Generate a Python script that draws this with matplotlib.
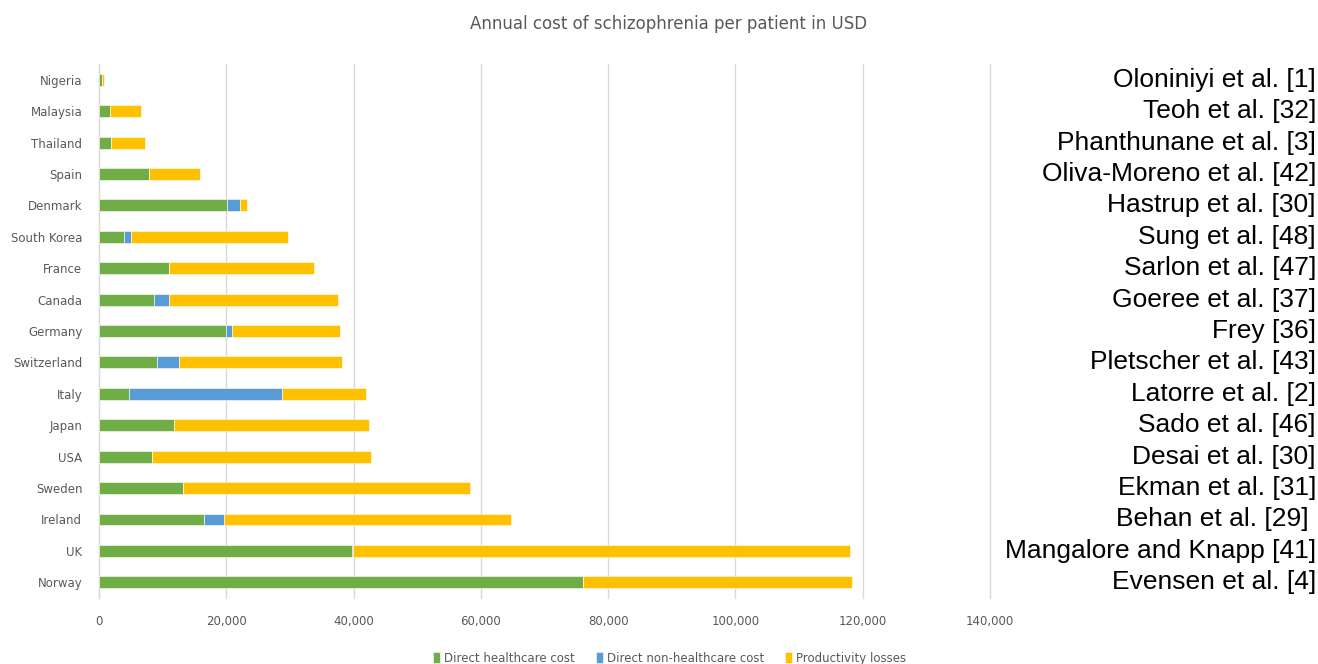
import numpy as np
import matplotlib.pyplot as plt
from matplotlib.ticker import FuncFormatter

# data (USD per patient per year)
countries = ["Nigeria", "Malaysia", "Thailand", "Spain", "Denmark", "South Korea",
             "France", "Canada", "Germany", "Switzerland", "Italy", "Japan", "USA",
             "Sweden", "Ireland", "UK", "Norway"]
direct_hc = [470, 1780, 1890, 7860, 20130, 3980, 11010, 8700, 19970, 9170,
             4770, 11800, 8390, 13260, 16510, 39700, 76000]
direct_non_hc = [0, 0, 0, 0, 2050, 1050, 0, 2310, 890, 3410,
                 23960, 0, 0, 0, 3150, 200, 0]
totals = [790, 6600, 7290, 15880, 23220, 29670, 33710, 37480, 37800, 38110,
          41890, 42460, 42780, 58350, 64690, 118000, 118400]
sources = ["Oloniniyi et al. [1]", "Teoh et al. [32]", "Phanthunane et al. [3]",
           "Oliva-Moreno et al. [42]", "Hastrup et al. [30]", "Sung et al. [48]",
           "Sarlon et al. [47]", "Goeree et al. [37]", "Frey [36]",
           "Pletscher et al. [43]", "Latorre et al. [2]", "Sado et al. [46]",
           "Desai et al. [30]", "Ekman et al. [31]", "Behan et al. [29] ",
           "Mangalore and Knapp [41]", "Evensen et al. [4]"]

dhc = np.array(direct_hc)
dnhc = np.array(direct_non_hc)
prod = np.array(totals) - dhc - dnhc

grey = "#595959"
fig = plt.figure(figsize=(13.18, 6.64), dpi=100)
ax = fig.add_axes([0.0751, 0.0994, 0.6760, 0.8042])

y = np.arange(len(countries))[::-1]
h = 0.38
kw = dict(height=h, edgecolor="white", linewidth=0.4, zorder=3)
ax.barh(y, dhc, color="#70AD47", label="Direct healthcare cost", **kw)
ax.barh(y, dnhc, left=dhc, color="#5B9BD5", label="Direct non-healthcare cost", **kw)
ax.barh(y, prod, left=dhc + dnhc, color="#FFC000", label="Productivity losses", **kw)

ax.set_xlim(0, 140000)
ax.set_ylim(-0.5, len(countries) - 0.5)
ax.set_xticks(np.arange(0, 140001, 20000))
ax.xaxis.set_major_formatter(FuncFormatter(lambda v, p: f"{int(v):,}"))
ax.set_yticks(y)
ax.set_yticklabels(countries)
ax.tick_params(axis="both", length=0, labelsize=8.5, colors=grey)
ax.tick_params(axis="x", pad=12)
ax.tick_params(axis="y", pad=12)
ax.grid(axis="x", color="#D9D9D9", linewidth=1, zorder=0)
for gl in ax.get_xgridlines():
    gl.set_clip_on(False)
for s in ["top", "right", "bottom"]:
    ax.spines[s].set_visible(False)
ax.spines["left"].set_color("#D9D9D9")

fig.suptitle("Annual cost of schizophrenia per patient in USD", x=0.507, y=0.977,
             fontsize=12, color=grey)

# study references on the right
for yi, src in zip(y, sources):
    ax.text(1.0 + (1316 - 990) / 891, yi, src, transform=ax.get_yaxis_transform(),
            ha="right", va="center", fontsize=19, family="Liberation Sans",
            color="black")

fig.legend(loc="lower center", bbox_to_anchor=(0.508, -0.017), ncol=3, frameon=False,
           fontsize=8.5, labelcolor=grey, handlelength=0.6, handleheight=1.0,
           handletextpad=0.3, columnspacing=1.8)

fig.savefig("out.png", dpi=100)
